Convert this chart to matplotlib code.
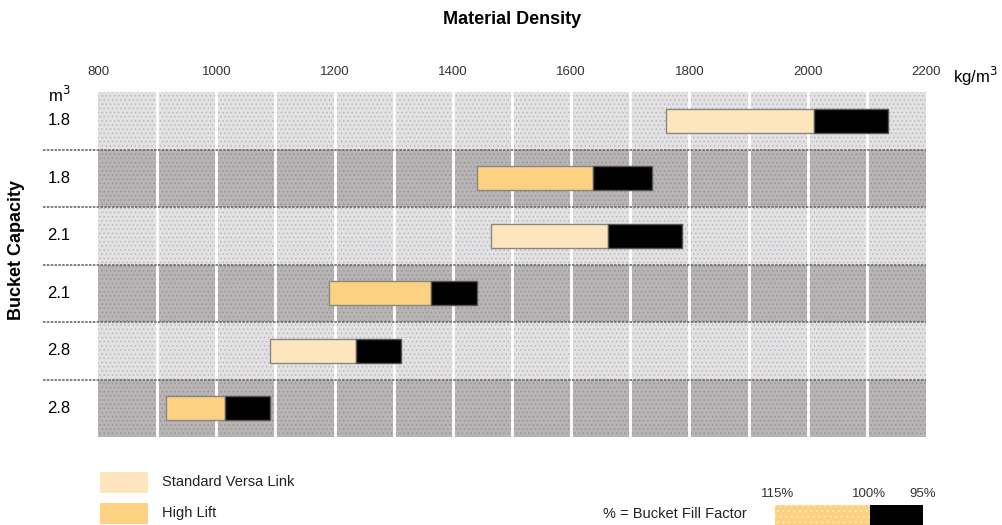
import matplotlib
matplotlib.use('Agg')
import matplotlib.pyplot as plt
from matplotlib.patches import Rectangle
from matplotlib.lines import Line2D

plt.rcParams['font.family'] = ['Liberation Sans Narrow', 'Liberation Sans', 'DejaVu Sans']
plt.rcParams['hatch.linewidth'] = 0.6

capacity = ['1.8', '1.8', '2.1', '2.1', '2.8', '2.8']
linkage = ['Standard Versa Link', 'High Lift', 'Standard Versa Link', 'High Lift',
           'Standard Versa Link', 'High Lift']
dens_115 = [1760, 1440, 1465, 1190, 1090, 915]
dens_100 = [2010, 1637, 1662, 1363, 1237, 1015]
dens_95 = [2135, 1737, 1787, 1440, 1312, 1090]
xticks = [800, 1000, 1200, 1400, 1600, 1800, 2000, 2200]

link_colors = {'Standard Versa Link': '#fde6bd', 'High Lift': '#fdd182'}
row_colors = ['#e5e1e0', '#b9b3b1']
row_dots = ['#a9bccc', '#9098aa']

fig = plt.figure(figsize=(10.03, 5.25), dpi=100)
W, H = 1003, 525
ax = fig.add_axes([98 / W, 1 - 437 / H, (926 - 98) / W, (437 - 92) / H])
ax.set_xlim(800, 2200)
ax.set_ylim(len(capacity), 0)

# background bands
for i in range(len(capacity)):
    ax.add_patch(Rectangle((800, i), 1400, 1, facecolor=row_colors[i % 2],
                           edgecolor=row_dots[i % 2], hatch='....', linewidth=0, zorder=0))
for x in range(900, 2200, 100):
    ax.axvline(x, color='white', linewidth=2, zorder=1)
for i in range(1, len(capacity)):
    ax.add_line(Line2D([-0.067, 1], [i, i], transform=ax.get_yaxis_transform(),
                       color='#6e6a69', linewidth=1.2, linestyle=(0, (1.5, 0.8)),
                       clip_on=False, zorder=2))

bh = 0.42
for i in range(len(capacity)):
    ax.barh(i + 0.5, dens_100[i] - dens_115[i], left=dens_115[i], height=bh,
            color=link_colors[linkage[i]], edgecolor='#8a8684', linewidth=1, zorder=3)
    ax.barh(i + 0.5, dens_95[i] - dens_100[i], left=dens_100[i], height=bh,
            color='black', edgecolor='#555555', linewidth=1, zorder=3)

ax.set_xticks(xticks)
ax.xaxis.tick_top()
ax.tick_params(axis='x', length=0, pad=10, labelsize=9.5, labelcolor='#333333')
ax.set_yticks([])
for s in ax.spines.values():
    s.set_visible(False)

for i, c in enumerate(capacity):
    ax.text(-0.061, i + 0.5, c, transform=ax.get_yaxis_transform(),
            ha='left', va='center', fontsize=12)

fig.text(512 / W, 1 - 20 / H, 'Material Density', ha='center', va='center',
         fontsize=13, fontweight='bold')
fig.text(17 / W, 1 - 250 / H, 'Bucket Capacity', ha='center', va='center',
         rotation=90, fontsize=13, fontweight='bold')
fig.text(48 / W, 1 - 95 / H, 'm$^3$', ha='left', va='center', fontsize=12)
fig.text(953 / W, 1 - 76 / H, 'kg/m$^3$', ha='left', va='center', fontsize=12)

# legend
for y0, name in [(472, 'Standard Versa Link'), (503, 'High Lift')]:
    fig.patches.append(Rectangle((100 / W, 1 - (y0 + 21) / H), 48 / W, 21 / H,
                                 transform=fig.transFigure, facecolor=link_colors[name],
                                 edgecolor='none'))
    fig.text(162 / W, 1 - (y0 + 10) / H, name, ha='left', va='center', fontsize=10.5,
             color='#222222')

fig.text(603 / W, 1 - 514 / H, '% = Bucket Fill Factor', ha='left', va='center',
         fontsize=10.5, color='#222222')
fig.patches.append(Rectangle((775 / W, 1 - 525 / H), 95 / W, 20 / H,
                             transform=fig.transFigure, facecolor='#fdd182',
                             edgecolor='#fff0c0', hatch='...', linewidth=0))
fig.patches.append(Rectangle((870 / W, 1 - 525 / H), 53 / W, 20 / H,
                             transform=fig.transFigure, facecolor='black', edgecolor='none'))
for x, t in [(778, '115%'), (869, '100%'), (923, '95%')]:
    fig.text(x / W, 1 - 494 / H, t, ha='center', va='center', fontsize=9.5,
             color='#333333')

fig.savefig('out.png', dpi=100)
